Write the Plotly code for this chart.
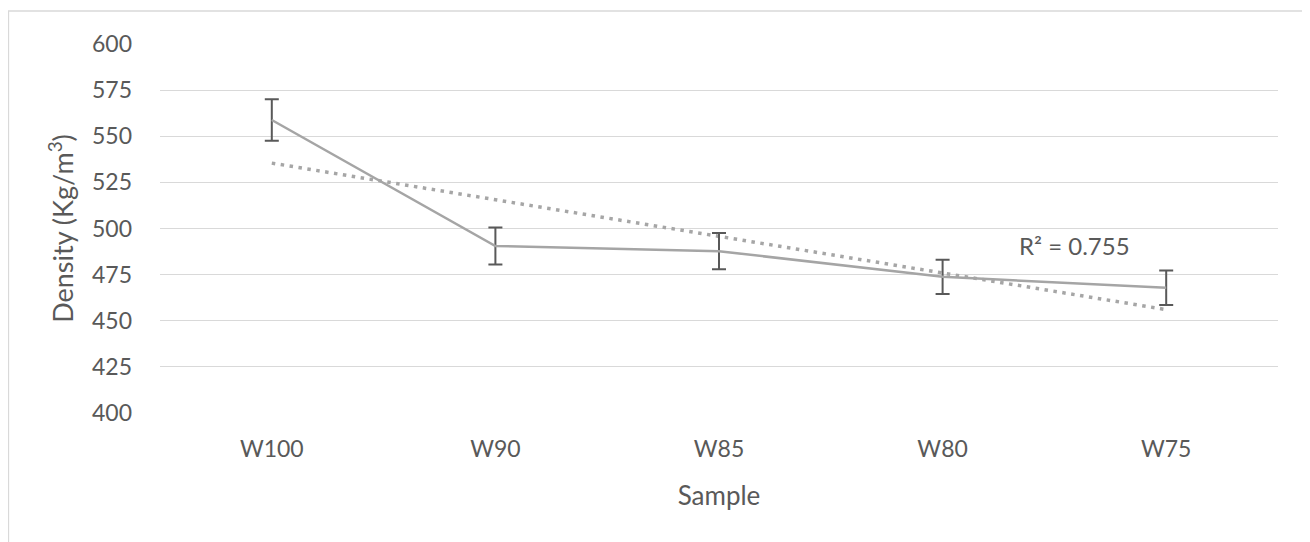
import numpy as np
import plotly.graph_objects as go

categories = ["W100", "W90", "W85", "W80", "W75"]
density = [558.8, 490.5, 487.7, 473.8, 467.9]
density_err = [11.3, 10.0, 9.8, 9.3, 9.4]
y_ticks = [400, 425, 450, 475, 500, 525, 550, 575, 600]
r2_label = "R² = 0.755"

# linear trendline fitted to the series (like the spreadsheet trendline)
xi = np.arange(1, len(categories) + 1)
slope, intercept = np.polyfit(xi, density, 1)
trend = slope * xi + intercept

FONT = "Lato, 'Open Sans', sans-serif"
TXT = "#595959"

# figure is placed at (8, 8) in the page by the default body margin
W, H = 1302, 534
L, R, T, B = 152, 32, 36, 129
PW, PH = W - L - R, H - T - B

fig = go.Figure()
fig.add_trace(go.Scatter(
    x=categories, y=trend.tolist(), mode="lines",
    line=dict(color="#a6a6a6", width=3.5, dash="3.5px,5.5px"),
    showlegend=False, hoverinfo="skip"))
fig.add_trace(go.Scatter(
    x=categories, y=density, mode="lines",
    line=dict(color="#a5a5a5", width=2.5),
    error_y=dict(type="data", array=density_err, visible=True,
                 color="#595959", thickness=2, width=7),
    showlegend=False))

fig.add_annotation(x=(1074 - 160) / PW, xref="paper", xanchor="center",
                   y=491, yref="y", yanchor="middle", text=r2_label,
                   showarrow=False, font=dict(family=FONT, size=24, color=TXT))

# chart border (only top and left edges visible in the frame)
fig.add_shape(type="rect", xref="paper", yref="paper",
              x0=(0.5 - L) / PW, x1=1.2, y0=-0.6, y1=(PH + T - 3) / PH,
              line=dict(color="#d9d9d9", width=1.3), fillcolor="rgba(0,0,0,0)",
              layer="below")

fig.update_layout(
    width=W, height=H,
    margin=dict(l=L, r=R, t=T, b=B),
    paper_bgcolor="white", plot_bgcolor="white",
    font=dict(family=FONT, size=23, color=TXT),
    xaxis=dict(range=[-0.5, 4.5], showgrid=False, showline=False, zeroline=False,
               ticks="", ticklabelstandoff=20,
               tickfont=dict(size=23, color=TXT),
               title=dict(text="Sample", font=dict(size=26, color=TXT), standoff=25)),
    yaxis=dict(range=[400, 600], tickvals=y_ticks, showgrid=True,
               gridcolor="#d9d9d9", gridwidth=1.3, zeroline=False,
               showline=False, ticks="", ticklabelstandoff=27,
               tickfont=dict(size=23, color=TXT),
               title=dict(text="Density (Kg/m<sup>3</sup>)",
                          font=dict(size=27, color=TXT), standoff=10)),
)
fig.write_html("out.html")
